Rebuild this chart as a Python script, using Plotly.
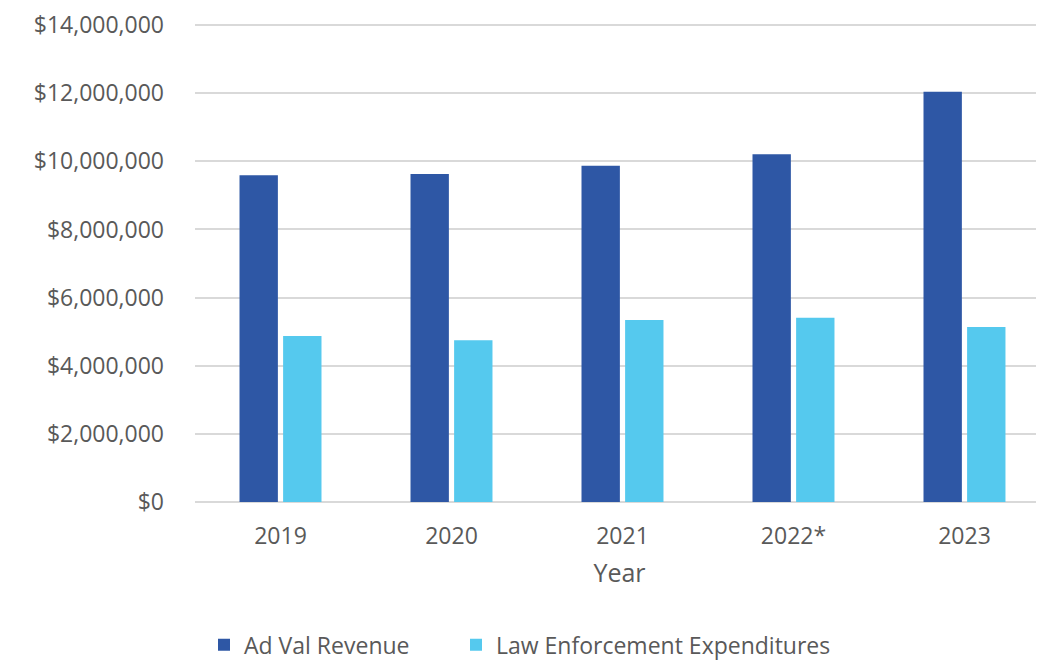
import plotly.graph_objects as go

years = ["2019", "2020", "2021", "2022*", "2023"]
ad_val_revenue = [9590000, 9630000, 9870000, 10210000, 12040000]
law_enforcement = [4870000, 4750000, 5340000, 5410000, 5140000]
y_ticks = [0, 2000000, 4000000, 6000000, 8000000, 10000000, 12000000, 14000000]
y_tick_text = ["${:,}".format(v) for v in y_ticks]

font_family = "'Open Sans', sans-serif"
grey = "#595959"

fig = go.Figure()
fig.add_trace(go.Bar(x=years, y=ad_val_revenue, name="Ad Val Revenue",
                     marker=dict(color="#2E57A5", line=dict(width=0)),
                     legend="legend", showlegend=True))
fig.add_trace(go.Bar(x=years, y=law_enforcement, name="Law Enforcement Expenditures",
                     marker=dict(color="#55C9EE", line=dict(width=0)),
                     legend="legend2", showlegend=True))

legend_style = dict(orientation="h", xref="container", yref="container",
                    y=0.025, xanchor="left", yanchor="middle",
                    font=dict(size=23, color=grey), itemwidth=30)

# page body has an 8px margin, so the figure is shrunk by that much
fig.update_layout(
    width=1036, height=653,
    margin=dict(l=187, r=0, t=16, b=159, autoexpand=False),
    paper_bgcolor="white", plot_bgcolor="white",
    showlegend=True,
    barmode="group", bargap=0.49, bargroupgap=0.12,
    font=dict(family=font_family, color=grey, size=23),
    legend=dict(x=196 / 1036, **legend_style),
    legend2=dict(x=448 / 1036, **legend_style),
)
fig.update_xaxes(range=[-0.5, 4.465], showgrid=False, showline=False,
                 ticks="", ticklabelstandoff=18,
                 tickfont=dict(size=23, color=grey),
                 title=dict(text="Year", font=dict(size=25, color=grey), standoff=14))
fig.update_yaxes(range=[0, 14030000], tickvals=y_ticks, ticktext=y_tick_text,
                 showgrid=True, gridcolor="#D9D9D9", gridwidth=2,
                 zeroline=True, zerolinecolor="#D9D9D9", zerolinewidth=2,
                 ticks="", ticklabelstandoff=30, ticklabeloverflow="allow",
                 tickfont=dict(size=23, color=grey))

fig.write_html("out.html")
